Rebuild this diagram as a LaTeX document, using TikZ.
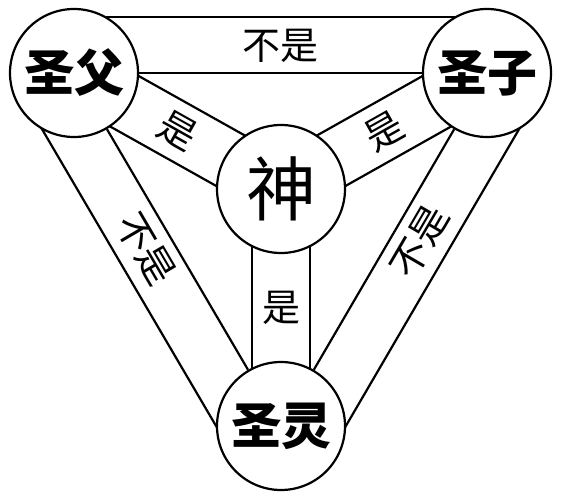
\documentclass[tikz,border=0pt]{standalone}
\usepackage{fontspec}
\setmainfont{Noto Sans CJK SC}
\usetikzlibrary{calc,backgrounds}

\begin{document}
\begin{tikzpicture}[x=1pt,y=-1pt,line width=2.2pt,
  person/.style={draw,circle,fill=white,minimum size=128pt,inner sep=0pt,font=\fontsize{50}{50}\selectfont\bfseries},
  god/.style={draw,circle,fill=white,minimum size=128pt,inner sep=0pt,font=\fontsize{70}{70}\selectfont},
  band/.style={draw,line width=2.2pt},
  rel/.style={inner sep=0pt,font=\fontsize{38}{38}\selectfont}]

  \useasboundingbox (0,0) rectangle (561,500);

  \node[person] at (74,73) (n-fa) {圣父};
  \node[person] at (487,73) (n-zi) {圣子};
  \node[person] at (281,426) (n-ling) {圣灵};
  \node[god] at (281,189) (n-shen) {神};

  \begin{scope}[on background layer]
    % outer bands
    \path[band] (n-fa) -- (n-zi);
    \path[band] ($(n-fa.center)!56pt!90:(n-zi.center)$) -- ($(n-zi.center)!56pt!-90:(n-fa.center)$);
    \path[band] (n-zi) -- (n-ling);
    \path[band] ($(n-zi.center)!56pt!90:(n-ling.center)$) -- ($(n-ling.center)!56pt!-90:(n-zi.center)$);
    \path[band] (n-ling) -- (n-fa);
    \path[band] ($(n-ling.center)!56pt!90:(n-fa.center)$) -- ($(n-fa.center)!56pt!-90:(n-ling.center)$);

    % inner bands
    \path[band] ($(n-fa.center)!29pt!90:(n-shen.center)$) -- ($(n-shen.center)!29pt!-90:(n-fa.center)$);
    \path[band] ($(n-fa.center)!29pt!-90:(n-shen.center)$) -- ($(n-shen.center)!29pt!90:(n-fa.center)$);
    \path[band] ($(n-zi.center)!29pt!90:(n-shen.center)$) -- ($(n-shen.center)!29pt!-90:(n-zi.center)$);
    \path[band] ($(n-zi.center)!29pt!-90:(n-shen.center)$) -- ($(n-shen.center)!29pt!90:(n-zi.center)$);
    \path[band] ($(n-ling.center)!29pt!90:(n-shen.center)$) -- ($(n-shen.center)!29pt!-90:(n-ling.center)$);
    \path[band] ($(n-ling.center)!29pt!-90:(n-shen.center)$) -- ($(n-shen.center)!29pt!90:(n-ling.center)$);
  \end{scope}

  \path (n-fa) -- (n-shen) node[rel,midway,sloped] (l-fa) {是};
  \path (n-shen) -- (n-zi) node[rel,midway,sloped] (l-zi) {是};
  \path (n-shen) -- (n-ling) node[rel,midway] (l-ling) {是};

  \path ($(n-fa.center)!27pt!90:(n-zi.center)$) -- ($(n-zi.center)!27pt!-90:(n-fa.center)$) node[rel,midway] (l-fazi) {不是};
  \path ($(n-fa.center)!27pt!-90:(n-ling.center)$) -- ($(n-ling.center)!27pt!90:(n-fa.center)$) node[rel,pos=0.46,sloped] (l-faling) {不是};
  \path ($(n-ling.center)!27pt!-90:(n-zi.center)$) -- ($(n-zi.center)!27pt!90:(n-ling.center)$) node[rel,pos=0.56,sloped] (l-lingzi) {不是};

\end{tikzpicture}
\end{document}
